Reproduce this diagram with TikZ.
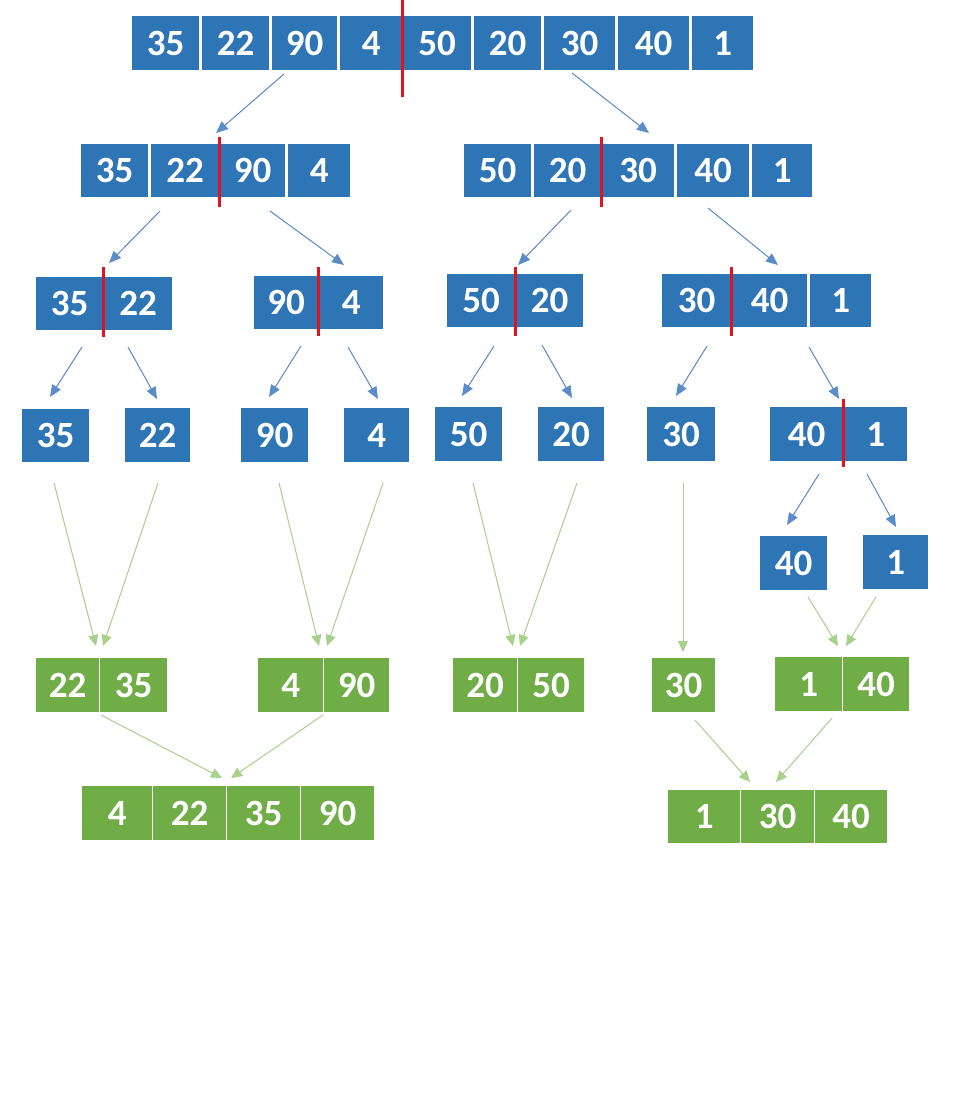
\documentclass[tikz,border=0pt]{standalone}
\usepackage{fontspec}
\newfontfamily\cellfam{Carlito}
\usetikzlibrary{arrows.meta}
\definecolor{cblue}{HTML}{2E75B6}
\definecolor{cgreen}{HTML}{70AD47}
\definecolor{ablue}{HTML}{5B8CC8}
\definecolor{agreen}{HTML}{A9D18E}
\definecolor{cred}{HTML}{E0141E}
\tikzset{
  cellbox/.style={rectangle, draw=white, line width=1.4pt, text=white, inner sep=0pt,
    anchor=north west, font=\cellfam\bfseries\fontsize{37}{37}\selectfont},
  bluecell/.style={cellbox, fill=cblue},
  greencell/.style={cellbox, fill=cgreen},
  splitline/.style={draw=cred, line width=3pt},
  barrow/.style={draw=ablue, line width=1pt, -{Triangle[length=12pt,width=10pt]}, fill=ablue},
  garrow/.style={draw=agreen, line width=1pt, -{Triangle[length=11pt,width=10pt]}, fill=agreen},
}
% name, style, x1, x2, y1, y2, text
\newcommand\mkcell[7]{\node[#2, minimum width={#4pt-#3pt}, minimum height={#6pt-#5pt}] (#1) at (#3,#5) {\raisebox{-2pt}{#7}};}
% style, name, start, end
\newcommand\mkconn[4]{\coordinate (#2s) at (#3); \coordinate (#2e) at (#4); \draw[#1] (#2s) -- (#2e);}
\begin{document}
\begin{tikzpicture}[x=1pt,y=-1pt]
\useasboundingbox[fill=white] (0,0) rectangle (960,1104);
% Row 1
\mkcell{r1a}{bluecell}{131}{199}{15}{70}{35}
\mkcell{r1b}{bluecell}{201}{269}{15}{70}{22}
\mkcell{r1c}{bluecell}{271}{337}{15}{70}{90}
\mkcell{r1d}{bluecell}{339}{402}{15}{70}{4}
\mkcell{r1e}{bluecell}{402}{471}{15}{70}{50}
\mkcell{r1f}{bluecell}{473}{541}{15}{70}{20}
\mkcell{r1g}{bluecell}{543}{615}{15}{70}{30}
\mkcell{r1h}{bluecell}{617}{689}{15}{70}{40}
\mkcell{r1i}{bluecell}{691}{753}{15}{70}{1}
\draw[splitline] (402,0) -- (402,97);
% Row 2
\mkcell{r2a}{bluecell}{80}{148}{143}{197}{35}
\mkcell{r2b}{bluecell}{150}{219}{143}{197}{22}
\mkcell{r2c}{bluecell}{219}{285}{143}{197}{90}
\mkcell{r2d}{bluecell}{287}{350}{143}{197}{4}
\draw[splitline] (219,137) -- (219,207);
\mkcell{r2e}{bluecell}{463}{531}{143}{197}{50}
\mkcell{r2f}{bluecell}{533}{601}{143}{197}{20}
\mkcell{r2g}{bluecell}{601}{674}{143}{197}{30}
\mkcell{r2h}{bluecell}{676}{749}{143}{197}{40}
\mkcell{r2i}{bluecell}{751}{812}{143}{197}{1}
\draw[splitline] (601,137) -- (601,207);
% Row 3
\mkcell{r3a}{bluecell}{35}{103}{276}{330}{35}
\mkcell{r3b}{bluecell}{103}{172}{276}{330}{22}
\draw[splitline] (103,267) -- (103,337);
\mkcell{r3c}{bluecell}{253}{318}{275}{329}{90}
\mkcell{r3d}{bluecell}{318}{383}{275}{329}{4}
\draw[splitline] (318,267) -- (318,336);
\mkcell{r3e}{bluecell}{446}{515}{273}{327}{50}
\mkcell{r3f}{bluecell}{515}{583}{273}{327}{20}
\draw[splitline] (515,267) -- (515,336);
\mkcell{r3g}{bluecell}{661}{731}{273}{327}{30}
\mkcell{r3h}{bluecell}{731}{807}{273}{327}{40}
\mkcell{r3i}{bluecell}{809}{871}{273}{327}{1}
\draw[splitline] (731,267) -- (731,336);
% Row 4
\mkcell{r4a}{bluecell}{21}{89}{408}{462}{35}
\mkcell{r4b}{bluecell}{124}{190}{407}{462}{22}
\mkcell{r4c}{bluecell}{240}{308}{407}{462}{90}
\mkcell{r4d}{bluecell}{343}{409}{407}{462}{4}
\mkcell{r4e}{bluecell}{434}{502}{406}{461}{50}
\mkcell{r4f}{bluecell}{537}{604}{406}{461}{20}
\mkcell{r4g}{bluecell}{646}{715}{406}{461}{30}
\mkcell{r4h}{bluecell}{769}{843}{406}{461}{40}
\mkcell{r4i}{bluecell}{843}{907}{406}{461}{1}
\draw[splitline] (843,399) -- (843,467);
% Row 5
\mkcell{r5a}{bluecell}{759}{827}{535}{590}{40}
\mkcell{r5b}{bluecell}{862}{928}{534}{589}{1}
% Row 6 (green)
\mkcell{g1a}{greencell}{35}{99}{657}{712}{22}
\mkcell{g1b}{greencell}{99}{167}{657}{712}{35}
\mkcell{g2a}{greencell}{257}{323}{657}{712}{4}
\mkcell{g2b}{greencell}{323}{389}{657}{712}{90}
\mkcell{g3a}{greencell}{452}{517}{657}{712}{20}
\mkcell{g3b}{greencell}{517}{584}{657}{712}{50}
\mkcell{g4}{greencell}{651}{715}{657}{712}{30}
\mkcell{g5a}{greencell}{774}{842}{656}{711}{1}
\mkcell{g5b}{greencell}{842}{909}{656}{711}{40}
% Row 7 (green)
\mkcell{h1a}{greencell}{81}{152}{785}{840}{4}
\mkcell{h1b}{greencell}{152}{226}{785}{840}{22}
\mkcell{h1c}{greencell}{226}{300}{785}{840}{35}
\mkcell{h1d}{greencell}{300}{374}{785}{840}{90}
\mkcell{h2a}{greencell}{667}{740}{789}{843}{1}
\mkcell{h2b}{greencell}{740}{814}{789}{843}{30}
\mkcell{h2c}{greencell}{814}{887}{789}{843}{40}
% Split arrows (blue)
\mkconn{barrow}{b1}{284,74}{216,133}
\mkconn{barrow}{b2}{572,73}{649,133}
\mkconn{barrow}{b3}{160,211}{109,263}
\mkconn{barrow}{b4}{270,211}{344,265}
\mkconn{barrow}{b5}{571,210}{518,265}
\mkconn{barrow}{b6}{708,208}{778,265}
\mkconn{barrow}{b7}{82,347}{50,397}
\mkconn{barrow}{b8}{128,347}{157,399}
\mkconn{barrow}{b9}{301,346}{269,397}
\mkconn{barrow}{b10}{348,347}{378,399}
\mkconn{barrow}{b11}{494,346}{462,396}
\mkconn{barrow}{b12}{542,345}{572,398}
\mkconn{barrow}{b13}{707,346}{676,396}
\mkconn{barrow}{b14}{809,347}{839,399}
\mkconn{barrow}{b15}{819,474}{787,525}
\mkconn{barrow}{b16}{867,474}{896,527}
% Merge arrows (green)
\mkconn{garrow}{m1}{54,483}{96,646}
\mkconn{garrow}{m2}{158,483}{103,646}
\mkconn{garrow}{m3}{279,483}{319,646}
\mkconn{garrow}{m4}{383,483}{327,646}
\mkconn{garrow}{m5}{473,483}{513,646}
\mkconn{garrow}{m6}{577,483}{520,646}
\mkconn{garrow}{m7}{683,483}{683,652}
\mkconn{garrow}{m8}{808,597}{838,646}
\mkconn{garrow}{m9}{876,597}{846,646}
\mkconn{garrow}{m10}{101,715}{222,778}
\mkconn{garrow}{m11}{323,715}{231,778}
\mkconn{garrow}{m12}{695,720}{750,782}
\mkconn{garrow}{m13}{832,718}{776,782}
\end{tikzpicture}
\end{document}
